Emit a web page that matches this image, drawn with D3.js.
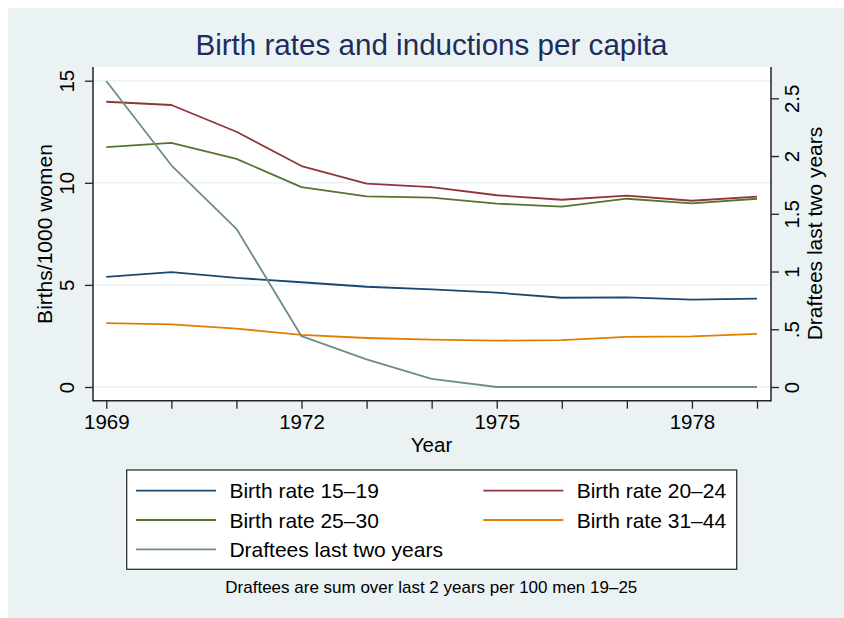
<!DOCTYPE html>
<html><head><meta charset="utf-8">
<script src="https://cdn.jsdelivr.net/npm/d3@7"></script>
<style>body{margin:0;background:#fff}svg{display:block;font-family:"Liberation Sans",Arial,sans-serif}</style>
</head><body><svg id="c" width="844" height="618"></svg>
<script>
const years = [1969,1970,1971,1972,1973,1974,1975,1976,1977,1978,1979];
const br1519 = [5.39,5.63,5.34,5.13,4.91,4.78,4.62,4.37,4.39,4.28,4.33];
const br2024 = [13.97,13.81,12.50,10.82,9.96,9.79,9.39,9.17,9.37,9.12,9.32];
const br2530 = [11.75,11.96,11.17,9.79,9.34,9.27,8.98,8.83,9.22,8.99,9.22];
const br3144 = [3.13,3.07,2.86,2.55,2.40,2.32,2.27,2.30,2.45,2.48,2.60];
const draftees = [2.65,1.92,1.37,0.44,0.24,0.07,0,0,0,0,0];
const leftTicks = [0,5,10,15];
const rightTicks = [0,0.5,1,1.5,2,2.5];
const rightTickLabels = ["0",".5","1","1.5","2","2.5"];
const xLabelYears = [1969,1972,1975,1978];
const seriesNames = ["Birth rate 15\u201319","Birth rate 20\u201324","Birth rate 25\u201330","Birth rate 31\u201344","Draftees last two years"];
const seriesColors = ["#1a476f","#90353b","#55752f","#e37e00","#6e8e84"];

const svg = d3.select("#c");
const bg = "#eaf2f3";
svg.append("rect").attr("x",8).attr("y",8).attr("width",836).attr("height",610).attr("fill",bg);

const L=93,R=771,T=67,B=400.7;
svg.append("rect").attr("x",L).attr("y",T).attr("width",R-L).attr("height",B-T).attr("fill","#fff");

const x = d3.scaleLinear().domain([1969,1979]).range([106.3,757]);
const yL = d3.scaleLinear().domain([0,15]).range([387,80.7]);
const yR = d3.scaleLinear().domain([0,2.5]).range([387,98.3]);

// grid
svg.append("g").selectAll("line").data(leftTicks).join("line")
  .attr("x1",L).attr("x2",R).attr("y1",d=>yL(d)).attr("y2",d=>yL(d))
  .attr("stroke",bg).attr("stroke-width",1.5);

// series
const line = (ys, sc) => d3.line().x((d,i)=>x(years[i])).y(d=>sc(d))(ys);
const data = [[br1519,yL],[br2024,yL],[br2530,yL],[br3144,yL],[draftees,yR]];
data.forEach((s,i)=>{
  svg.append("path").attr("d",line(s[0],s[1])).attr("fill","none")
    .attr("stroke",seriesColors[i]).attr("stroke-width",1.8).attr("stroke-linejoin","round");
});

// axes
const axCol="#222";
const gL = svg.append("g").attr("transform",`translate(${L},0)`)
  .call(d3.axisLeft(yL).tickValues(leftTicks).tickSize(8).tickPadding(0).tickFormat(d3.format("d")));
const gR = svg.append("g").attr("transform",`translate(${R},0)`)
  .call(d3.axisRight(yR).tickValues(rightTicks).tickSize(8).tickPadding(0).tickFormat((d,i)=>rightTickLabels[i]));
const gB = svg.append("g").attr("transform",`translate(0,${B})`)
  .call(d3.axisBottom(x).tickValues(years).tickSize(8).tickFormat(d=>xLabelYears.includes(d)?String(d):""));
[gL,gR,gB].forEach(g=>{
  g.select(".domain").remove();
  g.selectAll(".tick line").attr("stroke",axCol).attr("stroke-width",1.3);
  g.selectAll("text").attr("fill","#000").style("font-size","20.5px").style("font-family","Liberation Sans, Arial, sans-serif");
});
// rotate left/right tick labels
gL.selectAll(".tick text").attr("x",null).attr("dy",null).attr("text-anchor","middle")
  .attr("transform","translate(-19,0) rotate(-90)").attr("y",0);
gR.selectAll(".tick text").attr("x",null).attr("dy",null).attr("text-anchor","middle")
  .attr("transform","translate(28,0) rotate(-90)").attr("y",0);
gB.selectAll(".tick text").attr("dy",null).attr("y",28.6);

// axis lines
svg.append("line").attr("x1",L).attr("x2",L).attr("y1",T).attr("y2",B+0.7).attr("stroke",axCol).attr("stroke-width",1.5);
svg.append("line").attr("x1",R).attr("x2",R).attr("y1",T).attr("y2",B+0.7).attr("stroke",axCol).attr("stroke-width",1.5);
svg.append("line").attr("x1",L).attr("x2",R).attr("y1",B).attr("y2",B).attr("stroke",axCol).attr("stroke-width",1.5);

// axis titles
svg.append("text").attr("transform","translate(51.5,234) rotate(-90)").attr("text-anchor","middle")
  .style("font-size","21px").text("Births/1000 women");
svg.append("text").attr("transform","translate(821.5,233.5) rotate(-90)").attr("text-anchor","middle")
  .style("font-size","21px").text("Draftees last two years");
svg.append("text").attr("x",431.5).attr("y",451.5).attr("text-anchor","middle")
  .style("font-size","20.5px").text("Year");

// title
svg.append("text").attr("x",431.5).attr("y",55).attr("text-anchor","middle")
  .style("font-size","29.6px").attr("fill","#1e2d5c").text("Birth rates and inductions per capita");

// legend
svg.append("rect").attr("x",126.7).attr("y",470).attr("width",610).attr("height",99.3)
  .attr("fill","#fff").attr("stroke","#333").attr("stroke-width",1.3);
const legOrder=[0,1,2,3,4];
const legPos = [[136,490.7],[483.3,490.7],[136,520],[483.3,520],[136,549.3]];
legOrder.forEach((si,k)=>{
  const [lx,ly]=legPos[k];
  svg.append("line").attr("x1",lx).attr("x2",lx+80).attr("y1",ly).attr("y2",ly)
    .attr("stroke",seriesColors[si]).attr("stroke-width",1.8);
  svg.append("text").attr("x",lx+93.4).attr("y",ly+7.5).style("font-size","21px").text(seriesNames[si]);
});

// note
svg.append("text").attr("x",431.3).attr("y",593.3).attr("text-anchor","middle")
  .style("font-size","17px").text("Draftees are sum over last 2 years per 100 men 19\u201325");
</script></body></html>
